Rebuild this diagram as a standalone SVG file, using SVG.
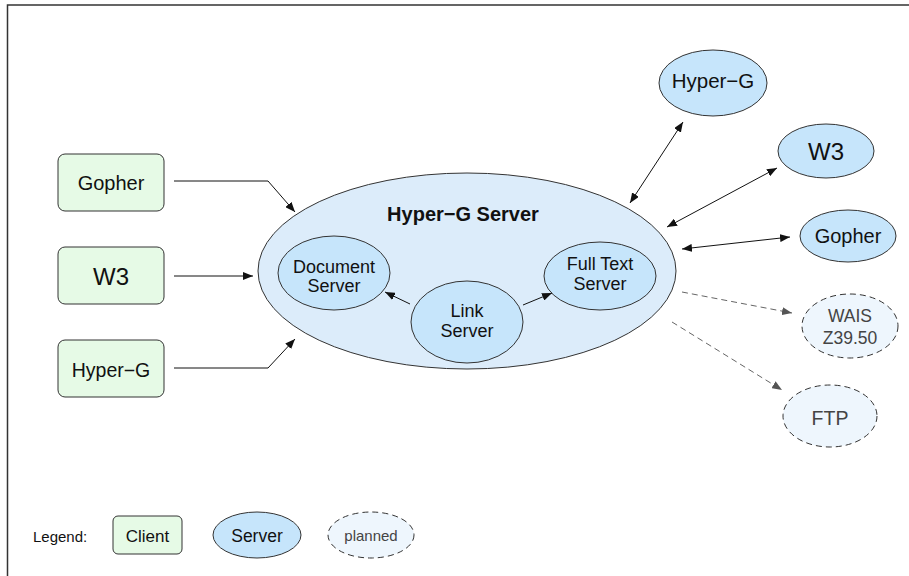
<svg xmlns="http://www.w3.org/2000/svg" width="909" height="576" viewBox="0 0 909 576">
<defs>
<style>
text{font-family:"Liberation Sans",Arial,sans-serif;fill:#111;text-anchor:middle}
.client{fill:#e6fae6;stroke:#333;stroke-width:1}
.server{fill:#c6e5fb;stroke:#333;stroke-width:1}
.big{fill:#dcecfa;stroke:#333;stroke-width:1}
.planned{fill:#eef6fd;stroke:#333;stroke-width:1;stroke-dasharray:6,4}
.pt{fill:#444}
.edge{fill:none;stroke:#111;stroke-width:1}
.dash{fill:none;stroke:#666;stroke-width:1;stroke-dasharray:6,4}
</style>
<marker id="ah" viewBox="0 0 10 8" refX="10" refY="4" markerWidth="10" markerHeight="8" markerUnits="userSpaceOnUse" orient="auto-start-reverse"><path d="M0,0 L10,4 L0,8 z" fill="#111"/></marker>
<marker id="ahg" viewBox="0 0 10 8" refX="10" refY="4" markerWidth="10" markerHeight="8" markerUnits="userSpaceOnUse" orient="auto"><path d="M0,0 L10,4 L0,8 z" fill="#555"/></marker>
</defs>
<rect width="909" height="576" fill="#fff"/>
<g id="frame" stroke="#333" stroke-width="1.5" fill="none"><path d="M7.5,576 V5 H909"/></g>

<g id="client-gopher"><rect class="client" x="58" y="154" width="106" height="57" rx="7"/><text x="111" y="190" font-size="20">Gopher</text></g>
<g id="client-w3"><rect class="client" x="58" y="247" width="106" height="57" rx="7"/><text x="111" y="285" font-size="24">W3</text></g>
<g id="client-hyperg"><rect class="client" x="58" y="340" width="106" height="57" rx="7"/><text x="111" y="377" font-size="19.5">Hyper−G</text></g>

<g id="hyperg-server"><ellipse class="big" cx="467" cy="271" rx="209" ry="98"/><text x="463" y="221" font-size="20" font-weight="bold">Hyper−G Server</text></g>
<g id="document-server"><ellipse class="server" cx="334" cy="273" rx="56" ry="37"/><text x="334" y="273" font-size="18">Document</text><text x="334" y="292" font-size="18">Server</text></g>
<g id="fulltext-server"><ellipse class="server" cx="600" cy="276" rx="56" ry="34"/><text x="600" y="270" font-size="18">Full Text</text><text x="600" y="290" font-size="18">Server</text></g>
<g id="link-server"><ellipse class="server" cx="467" cy="322" rx="56" ry="41"/><text x="467" y="317" font-size="18">Link</text><text x="467" y="337" font-size="18">Server</text></g>

<g id="server-hyperg"><ellipse class="server" cx="713" cy="83" rx="54" ry="33"/><text x="713" y="88" font-size="20.5">Hyper−G</text></g>
<g id="server-w3"><ellipse class="server" cx="826" cy="151" rx="48" ry="27"/><text x="826" y="160" font-size="24">W3</text></g>
<g id="server-gopher"><ellipse class="server" cx="848" cy="236" rx="48" ry="26"/><text x="848" y="243" font-size="20">Gopher</text></g>

<g id="planned-wais"><ellipse class="planned" cx="850" cy="326" rx="48" ry="32"/><text class="pt" x="850" y="322" font-size="17.5">WAIS</text><text class="pt" x="850" y="344" font-size="17.5">Z39.50</text></g>
<g id="planned-ftp"><ellipse class="planned" cx="830" cy="416" rx="47" ry="31"/><text class="pt" x="830" y="425" font-size="19.5">FTP</text></g>

<g id="connectors">
<polyline class="edge" points="174,181 268,181 295,212" marker-end="url(#ah)"/>
<line class="edge" x1="174" y1="276" x2="253" y2="276" marker-end="url(#ah)"/>
<polyline class="edge" points="174,368 268,368 295,339" marker-end="url(#ah)"/>
<line class="edge" x1="410" y1="304" x2="385" y2="292" marker-end="url(#ah)"/>
<line class="edge" x1="523" y1="305" x2="552" y2="293" marker-end="url(#ah)"/>
<line class="edge" x1="630" y1="203" x2="683" y2="122" marker-start="url(#ah)" marker-end="url(#ah)"/>
<line class="edge" x1="667" y1="227" x2="777" y2="168" marker-start="url(#ah)" marker-end="url(#ah)"/>
<line class="edge" x1="682" y1="249" x2="790" y2="237" marker-start="url(#ah)" marker-end="url(#ah)"/>
<line class="dash" x1="682" y1="292" x2="792" y2="313" marker-end="url(#ahg)"/>
<line class="dash" x1="672" y1="322" x2="782" y2="390" marker-end="url(#ahg)"/>
</g>

<g id="legend">
<text x="33" y="542" font-size="15" style="text-anchor:start">Legend:</text>
<g id="legend-client"><rect class="client" x="113" y="516" width="69" height="38" rx="5"/><text x="147.5" y="542" font-size="17">Client</text></g>
<g id="legend-server"><ellipse class="server" cx="257" cy="535" rx="44" ry="23"/><text x="257" y="542" font-size="17.5">Server</text></g>
<g id="legend-planned"><ellipse class="planned" cx="371" cy="535" rx="43" ry="23"/><text class="pt" x="371" y="541" font-size="15">planned</text></g>
</g>
</svg>
